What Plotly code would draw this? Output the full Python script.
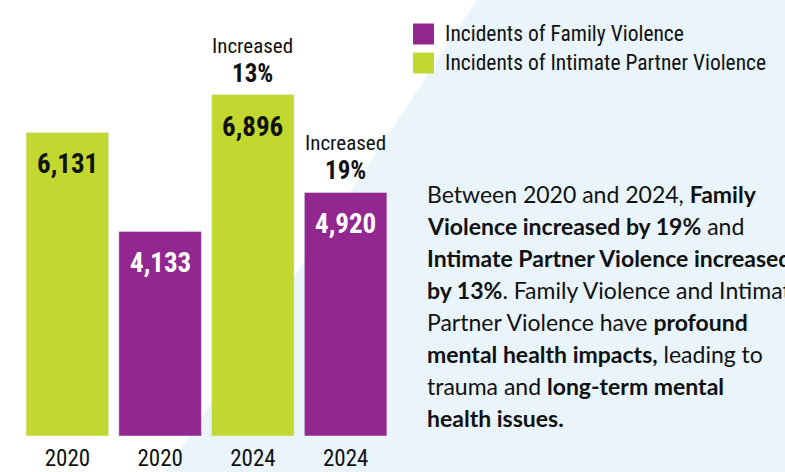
import plotly.graph_objects as go

# ---- data ----
years = ["2020", "2020", "2024", "2024"]
ipv_x = [0, 2]
ipv_values = [6131, 6896]
fv_x = [1, 3]
fv_values = [4133, 4920]
increase_labels = ["13%", "19%"]
legend_labels = ["Incidents of Family Violence", "Incidents of Intimate Partner Violence"]
body_lines = [
    "Between 2020 and 2024, <b>Family</b>",
    "<b>Violence increased by 19%</b> and",
    "<b>Intimate Partner Violence increased</b>",
    "<b>by 13%</b>. Family Violence and Intimate",
    "Partner Violence have <b>profound</b>",
    "<b>mental health impacts,</b> leading to",
    "trauma and <b>long-term mental</b>",
    "<b>health issues.</b>",
]

GREEN = "#C2D830"
PURPLE = "#92278F"
BLUE_BG = "#E9F4FB"
NARROW = "Roboto Condensed, DejaVu Sans Condensed, sans-serif"
BODY = "Lato, Open Sans, sans-serif"

W, H = 785, 472
ML, MR, MT, MB = 21, 393, 0, 36
PW, PH = W - ML - MR, H - MT - MB


def px2x(px):
    return (px - ML) / PW


def py2y(py):
    return (H - MB - py) / PH


fig = go.Figure()
fig.add_trace(go.Bar(x=ipv_x, y=ipv_values, marker_color=GREEN, width=0.89,
                     name=legend_labels[1], showlegend=False, hoverinfo="skip"))
fig.add_trace(go.Bar(x=fv_x, y=fv_values, marker_color=PURPLE, width=0.89,
                     name=legend_labels[0], showlegend=False, hoverinfo="skip"))

ann = []
# value labels inside bars
for xs, vals, col in [(ipv_x, ipv_values, "#111111"), (fv_x, fv_values, "#FFFFFF")]:
    for x, v in zip(xs, vals):
        ann.append(dict(x=x, y=v, xref="x", yref="y", text=f"<b>{v:,}</b>",
                        showarrow=False, yanchor="top", yshift=-14,
                        font=dict(family=NARROW, size=27, color=col)))
# increase labels above 2024 bars
for x, v, lab in [(ipv_x[1], ipv_values[1], increase_labels[0]),
                  (fv_x[1], fv_values[1], increase_labels[1])]:
    ann.append(dict(x=x, y=v, xref="x", yref="y", text=f"<b>{lab}</b>",
                    showarrow=False, yanchor="bottom", yshift=5,
                    font=dict(family=NARROW, size=25, color="#111111")))
    ann.append(dict(x=x, y=v, xref="x", yref="y", text="Increased",
                    showarrow=False, yanchor="bottom", yshift=35,
                    font=dict(family=NARROW, size=21, color="#111111")))

# background diagonal panel
shapes = [dict(type="path", xref="paper", yref="paper", layer="below",
               path=f"M{px2x(477)},{py2y(0)} L{px2x(790)},{py2y(0)} L{px2x(790)},{py2y(480)} L{px2x(160)},{py2y(480)} Z",
               fillcolor=BLUE_BG, line=dict(width=0))]
# legend (manual, large square swatches)
for i, (lab, col) in enumerate(zip(legend_labels, [PURPLE, GREEN])):
    cy = 34 + i * 29
    shapes.append(dict(type="rect", xref="paper", yref="paper",
                       x0=px2x(413), x1=px2x(434), y0=py2y(cy - 10.5), y1=py2y(cy + 10.5),
                       fillcolor=col, line=dict(width=0)))
    ann.append(dict(x=px2x(443), y=py2y(cy), xref="paper", yref="paper", text=lab,
                    showarrow=False, xanchor="left", yanchor="middle",
                    font=dict(family=NARROW, size=21.5, color="#111111")))

# body text
for i, line in enumerate(body_lines):
    ann.append(dict(x=px2x(425), y=py2y(194 + i * 32), xref="paper", yref="paper",
                    text=line, showarrow=False, xanchor="left", yanchor="middle",
                    font=dict(family=BODY, size=23, color="#111111")))

fig.update_layout(
    width=W, height=H,
    margin=dict(l=ML, r=MR, t=MT, b=MB, pad=0),
    paper_bgcolor="white", plot_bgcolor="rgba(0,0,0,0)",
    barmode="overlay", showlegend=False,
    xaxis=dict(range=[-0.5, 3.5], tickvals=[0, 1, 2, 3], ticktext=years,
               showgrid=False, zeroline=False, showline=False, ticks="",
               ticklabelstandoff=6,
               tickfont=dict(family=NARROW, size=23, color="#111111")),
    yaxis=dict(range=[0, 8807], visible=False, showgrid=False, zeroline=False),
    annotations=ann, shapes=shapes,
)
fig.write_html("out.html", config={"displayModeBar": False},
               post_script="document.body.style.margin='0';")
